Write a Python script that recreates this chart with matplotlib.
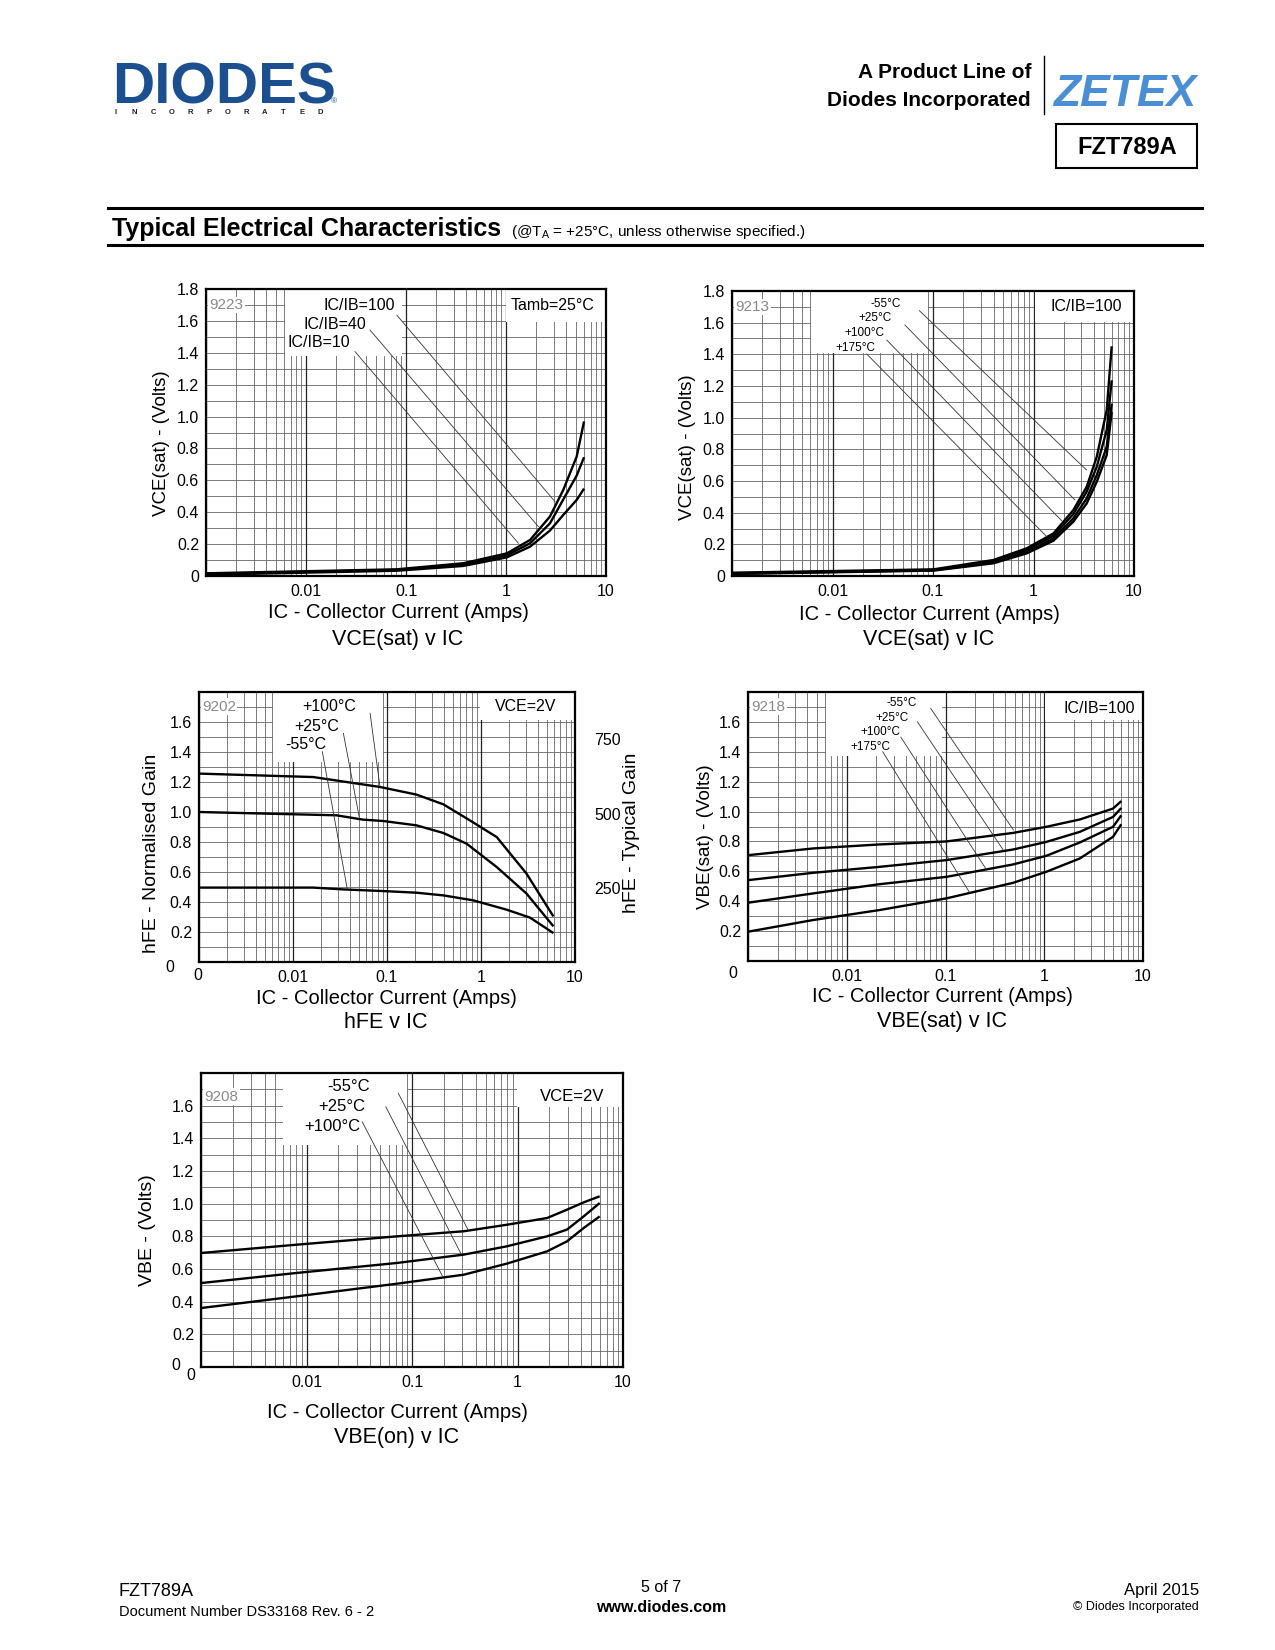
import numpy as np
import matplotlib
matplotlib.use('Agg')
import matplotlib.pyplot as plt
from matplotlib.patches import Rectangle
from matplotlib.ticker import NullLocator
from matplotlib import font_manager

plt.rcParams['font.family'] = ['Liberation Sans', 'DejaVu Sans']

names = {f.name for f in font_manager.fontManager.ttflist}
NARROW = ['Liberation Sans Narrow', 'Liberation Sans'] if 'Liberation Sans Narrow' in names else ['Liberation Sans']

# ---- data ----
# VCE(sat) v IC, Tamb = 25C
vce_ic = [0.001, 0.081, 0.374, 1.02, 1.74, 2.75, 3.74, 5.09, 6.03]
vce_ratio100 = [0.017, 0.042, 0.080, 0.142, 0.226, 0.373, 0.540, 0.749, 0.969]
vce_ratio40 = [0.013, 0.038, 0.071, 0.130, 0.205, 0.330, 0.480, 0.630, 0.745]
vce_ratio10 = [0.008, 0.033, 0.063, 0.117, 0.184, 0.285, 0.383, 0.477, 0.548]

# VCE(sat) v IC, IC/IB = 100
vcet_ic = [0.001, 0.101, 0.399, 0.857, 1.58, 2.49, 3.38, 4.26, 5.35, 6.0]
vcet_m55 = [0.021, 0.042, 0.101, 0.175, 0.269, 0.416, 0.563, 0.753, 1.047, 1.451]
vcet_25 = [0.017, 0.038, 0.093, 0.164, 0.254, 0.391, 0.532, 0.690, 0.921, 1.236]
vcet_100 = [0.015, 0.036, 0.086, 0.151, 0.238, 0.364, 0.490, 0.637, 0.816, 1.089]
vcet_175 = [0.013, 0.034, 0.080, 0.143, 0.223, 0.343, 0.458, 0.595, 0.763, 1.037]

# hFE v IC, VCE = 2V (normalised gain)
hfe_ic_100 = [0.001, 0.0164, 0.084, 0.206, 0.398, 0.762, 1.47, 3.05, 5.89]
hfe_100 = [1.256, 1.233, 1.167, 1.116, 1.051, 0.944, 0.833, 0.589, 0.304]
hfe_ic_25 = [0.001, 0.029, 0.0557, 0.0912, 0.206, 0.398, 0.702, 1.47, 3.05, 5.89]
hfe_25 = [1.0, 0.978, 0.949, 0.94, 0.911, 0.86, 0.789, 0.633, 0.456, 0.238]
hfe_ic_m55 = [0.001, 0.0164, 0.0341, 0.0912, 0.206, 0.398, 0.826, 1.87, 3.32, 5.89]
hfe_m55 = [0.496, 0.496, 0.484, 0.473, 0.462, 0.444, 0.411, 0.349, 0.296, 0.193]
hfe_typical_ticks = [250, 500, 750]

# VBE(sat) v IC, IC/IB = 100
vbes_ic = [0.001, 0.00455, 0.0215, 0.102, 0.483, 1.05, 2.29, 4.97, 6.03]
vbes_m55 = [0.708, 0.753, 0.780, 0.800, 0.857, 0.898, 0.947, 1.020, 1.070]
vbes_25 = [0.541, 0.590, 0.630, 0.675, 0.746, 0.797, 0.864, 0.964, 1.024]
vbes_100 = [0.390, 0.452, 0.514, 0.563, 0.646, 0.704, 0.793, 0.898, 0.975]
vbes_175 = [0.196, 0.274, 0.341, 0.419, 0.523, 0.597, 0.686, 0.831, 0.915]

# VBE(on) v IC, VCE = 2V
vbeon_ic = [0.001, 0.00813, 0.0721, 0.309, 0.794, 1.905, 2.94, 4.24, 6.01]
vbeon_m55 = [0.698, 0.749, 0.800, 0.831, 0.871, 0.912, 0.963, 1.008, 1.045]
vbeon_25 = [0.514, 0.576, 0.637, 0.688, 0.739, 0.800, 0.841, 0.922, 1.004]
vbeon_100 = [0.361, 0.433, 0.510, 0.565, 0.633, 0.708, 0.769, 0.851, 0.922]

x_ticks = [0.01, 0.1, 1, 10]
x_tick_labels = ['0.01', '0.1', '1', '10']
y_ticks_full = [0, 0.2, 0.4, 0.6, 0.8, 1.0, 1.2, 1.4, 1.6, 1.8]
y_ticks_short = [0.2, 0.4, 0.6, 0.8, 1.0, 1.2, 1.4, 1.6]

W, H = 1275, 1650
fig = plt.figure(figsize=(W / 100, H / 100), dpi=100)

# overlay in pixel coords for page furniture
page = fig.add_axes([0, 0, 1, 1])
page.set_xlim(0, W)
page.set_ylim(H, 0)
page.axis('off')

TICK = 11.5


def chart(left, top, right, bottom, yticks):
    ax = fig.add_axes([left / W, 1 - bottom / H, (right - left) / W, (bottom - top) / H])
    ax.set_xscale('log')
    ax.set_xlim(1e-3, 10)
    ax.set_ylim(0, 1.8)
    for y in np.arange(0.1, 1.75, 0.1):
        ax.axhline(y, color='#666666', lw=0.6, zorder=1)
    for d in [1e-3, 1e-2, 1e-1, 1]:
        for k in range(1, 10):
            if k == 1:
                ax.axvline(d * k, color='#222222', lw=0.9, zorder=1)
            else:
                ax.axvline(d * k, color='#666666', lw=0.6, zorder=1)
    ax.set_xticks(x_ticks, x_tick_labels)
    ax.xaxis.set_minor_locator(NullLocator())
    ax.set_yticks(yticks, ['0' if t == 0 else f'{t:.1f}' for t in yticks])
    ax.yaxis.set_minor_locator(NullLocator())
    ax.tick_params(length=0, labelsize=TICK, pad=5)
    ax.tick_params(axis='x', pad=6)
    for s in ax.spines.values():
        s.set_linewidth(1.6)
        s.set_zorder(6)
    return ax


def furniture(ax, tag, tag_y, label_box, right_box):
    x0, y0, x1 = label_box
    ax.add_patch(Rectangle((x0, y0), x1 - x0, 1 - y0, transform=ax.transAxes,
                           facecolor='white', edgecolor='none', zorder=2))
    rx, ry = right_box
    ax.add_patch(Rectangle((rx, ry), 1 - rx, 1 - ry, transform=ax.transAxes,
                           facecolor='white', edgecolor='none', zorder=2))
    ax.text(0.008, tag_y, tag, transform=ax.transAxes, color='#8a8a8a', fontsize=11,
            va='center', ha='left', zorder=5,
            bbox=dict(facecolor='white', edgecolor='none', pad=1.0))


def leader(ax, x0, y0, x1, y1):
    ax.plot([x0, x1], [y0, y1], transform=ax.transAxes, color='#333333', lw=0.6, zorder=4)


def label(ax, x, y, s, size=11.5):
    ax.text(x, y, s, transform=ax.transAxes, ha='right', va='center', fontsize=size, zorder=5)


def ylabel(x, y, s, size=13.5):
    page.text(x, y, s, rotation=90, ha='center', va='center', fontsize=size)


def captions(xc, y_xlabel, y_title, title):
    page.text(xc, y_xlabel, 'IC - Collector Current (Amps)', ha='center', va='center', fontsize=14.5)
    page.text(xc, y_title, title, ha='center', va='center', fontsize=15.5)


CURVE = dict(color='black', lw=1.7, zorder=3, solid_capstyle='butt', solid_joinstyle='round')

# ---- chart 1: VCE(sat) v IC ----
ax1 = chart(206, 289, 606, 576, y_ticks_full)
furniture(ax1, '9223', 0.944, (0.1975, 0.767, 0.49), (0.75, 0.885))
ax1.plot(vce_ic, vce_ratio100, **CURVE)
ax1.plot(vce_ic, vce_ratio40, **CURVE)
ax1.plot(vce_ic, vce_ratio10, **CURVE)
label(ax1, 0.4725, 0.944, 'IC/IB=100')
label(ax1, 0.40, 0.875, 'IC/IB=40')
label(ax1, 0.36, 0.815, 'IC/IB=10')
label(ax1, 0.972, 0.944, 'Tamb=25°C')
leader(ax1, 0.477, 0.909, 0.8725, 0.259)
leader(ax1, 0.41, 0.857, 0.831, 0.172)
leader(ax1, 0.3725, 0.782, 0.781, 0.114)
ylabel(162, 443, 'VCE(sat) - (Volts)')
captions(398, 613, 639, 'VCE(sat) v IC')

# ---- chart 2: VCE(sat) v IC over temperature ----
ax2 = chart(732, 291, 1134, 576, y_ticks_full)
furniture(ax2, '9213', 0.944, (0.1965, 0.782, 0.4876), (0.754, 0.891))
for ys in [vcet_m55, vcet_25, vcet_100, vcet_175]:
    ax2.plot(vcet_ic, ys, **CURVE)
label(ax2, 0.42, 0.954, '-55°C', 8.5)
label(ax2, 0.398, 0.905, '+25°C', 8.5)
label(ax2, 0.378, 0.853, '+100°C', 8.5)
label(ax2, 0.356, 0.80, '+175°C', 8.5)
label(ax2, 0.97, 0.944, 'IC/IB=100')
leader(ax2, 0.466, 0.931, 0.882, 0.372)
leader(ax2, 0.430, 0.881, 0.853, 0.267)
leader(ax2, 0.385, 0.828, 0.820, 0.194)
leader(ax2, 0.335, 0.779, 0.783, 0.138)
ylabel(687, 447, 'VCE(sat) - (Volts)')
captions(929, 614, 640, 'VCE(sat) v IC')

# ---- chart 3: hFE v IC ----
ax3 = chart(199, 692, 575, 962, y_ticks_short)
furniture(ax3, '9202', 0.946, (0.196, 0.742, 0.489), (0.747, 0.896))
ax3.plot(hfe_ic_100, hfe_100, **CURVE)
ax3.plot(hfe_ic_25, hfe_25, **CURVE)
ax3.plot(hfe_ic_m55, hfe_m55, **CURVE)
label(ax3, 0.419, 0.946, '+100°C')
label(ax3, 0.372, 0.871, '+25°C')
label(ax3, 0.338, 0.804, '-55°C')
label(ax3, 0.95, 0.946, 'VCE=2V')
leader(ax3, 0.455, 0.921, 0.481, 0.652)
leader(ax3, 0.384, 0.847, 0.426, 0.538)
leader(ax3, 0.328, 0.779, 0.394, 0.273)
ax3r = ax3.twinx()
ax3r.set_ylim(0, 910)
ax3r.set_yticks(hfe_typical_ticks, [str(t) for t in hfe_typical_ticks])
ax3r.yaxis.set_minor_locator(NullLocator())
ax3r.tick_params(length=0, labelsize=TICK, pad=14)
for s in ax3r.spines.values():
    s.set_visible(False)
page.text(170, 968, '0', ha='center', va='center', fontsize=TICK)
page.text(198, 976, '0', ha='center', va='center', fontsize=TICK)
ylabel(151, 853, 'hFE - Normalised Gain', 14)
ylabel(632, 833, 'hFE - Typical Gain', 14)
captions(386, 998, 1023, 'hFE v IC')

# ---- chart 4: VBE(sat) v IC ----
ax4 = chart(748, 692, 1143, 961, y_ticks_short)
furniture(ax4, '9218', 0.945, (0.197, 0.763, 0.49), (0.752, 0.896))
for ys in [vbes_m55, vbes_25, vbes_100, vbes_175]:
    ax4.plot(vbes_ic, ys, **CURVE)
label(ax4, 0.427, 0.958, '-55°C', 8.5)
label(ax4, 0.406, 0.904, '+25°C', 8.5)
label(ax4, 0.387, 0.852, '+100°C', 8.5)
label(ax4, 0.361, 0.797, '+175°C', 8.5)
label(ax4, 0.98, 0.937, 'IC/IB=100')
leader(ax4, 0.4625, 0.939, 0.672, 0.487)
leader(ax4, 0.429, 0.889, 0.646, 0.413)
leader(ax4, 0.387, 0.832, 0.603, 0.341)
leader(ax4, 0.341, 0.778, 0.562, 0.252)
page.text(733, 973, '0', ha='center', va='center', fontsize=TICK)
ylabel(705, 837, 'VBE(sat) - (Volts)')
captions(942, 997, 1022, 'VBE(sat) v IC')

# ---- chart 5: VBE(on) v IC ----
ax5 = chart(201, 1073, 623, 1367, y_ticks_short)
furniture(ax5, '9208', 0.919, (0.195, 0.755, 0.487), (0.748, 0.885))
for ys in [vbeon_m55, vbeon_25, vbeon_100]:
    ax5.plot(vbeon_ic, ys, **CURVE)
label(ax5, 0.40, 0.953, '-55°C', 12)
label(ax5, 0.389, 0.885, '+25°C', 12)
label(ax5, 0.378, 0.817, '+100°C', 12)
label(ax5, 0.957, 0.919, 'VCE=2V', 12)
leader(ax5, 0.4676, 0.931, 0.633, 0.466)
leader(ax5, 0.438, 0.885, 0.6154, 0.387)
leader(ax5, 0.382, 0.834, 0.573, 0.307)
page.text(176, 1366, '0', ha='center', va='center', fontsize=TICK)
page.text(191, 1376, '0', ha='center', va='center', fontsize=TICK)
ylabel(148, 1230, 'VBE - (Volts)', 14)
captions(397, 1412, 1438, 'VBE(on) v IC')

# ---- header ----
page.text(112, 104, 'DIODES', fontsize=42, fontweight='bold', color='#1b4f8f', va='baseline', ha='left')
page.plot([110, 330], [83, 83], color='white', lw=1.6)
for i, ch in enumerate('INCORPORATED'):
    page.text(116 + i * 18.6, 112, ch, fontsize=5.5, fontweight='bold', color='#222222', ha='center', va='center')
page.text(334, 102, '®', fontsize=6, color='#1b4f8f', ha='center', va='center')

page.text(1031, 73, 'A Product Line of', family=NARROW, fontweight='bold', fontsize=15, ha='right', va='center')
page.text(1031, 100, 'Diodes Incorporated', family=NARROW, fontweight='bold', fontsize=15, ha='right', va='center')
page.plot([1044, 1044], [56, 114], color='black', lw=1)
page.text(1053, 106, 'ZETEX', family=NARROW, fontweight='bold', fontstyle='italic', fontsize=32,
          color='#4a8fd6', ha='left', va='baseline')
page.add_patch(Rectangle((1056, 124), 141, 44, facecolor='none', edgecolor='black', lw=1.5))
page.text(1127, 147, 'FZT789A', family=NARROW, fontweight='bold', fontsize=17, ha='center', va='center')

page.plot([108, 1202], [208, 208], color='black', lw=2.2)
page.plot([108, 1202], [245, 245], color='black', lw=2.2)
page.text(112, 236, 'Typical Electrical Characteristics', family=NARROW, fontweight='bold', fontsize=18,
          ha='left', va='baseline')
page.text(511, 236, r'(@T$_\mathregular{A}$ = +25°C, unless otherwise specified.)', fontsize=11,
          ha='left', va='baseline')

# ---- footer ----
page.text(119, 1591, 'FZT789A', family=NARROW, fontsize=13, ha='left', va='center')
page.text(119, 1612, 'Document Number DS33168 Rev. 6 - 2', family=NARROW, fontsize=10.5, ha='left', va='center')
page.text(661, 1588, '5 of 7', family=NARROW, fontsize=11.5, ha='center', va='center')
page.text(661, 1607, 'www.diodes.com', family=NARROW, fontweight='bold', fontsize=11.5, ha='center', va='center')
page.text(1199, 1591, 'April 2015', family=NARROW, fontsize=12, ha='right', va='center')
page.text(1199, 1607, '© Diodes Incorporated', family=NARROW, fontsize=9, ha='right', va='center')

fig.savefig('out.png', dpi=100)
